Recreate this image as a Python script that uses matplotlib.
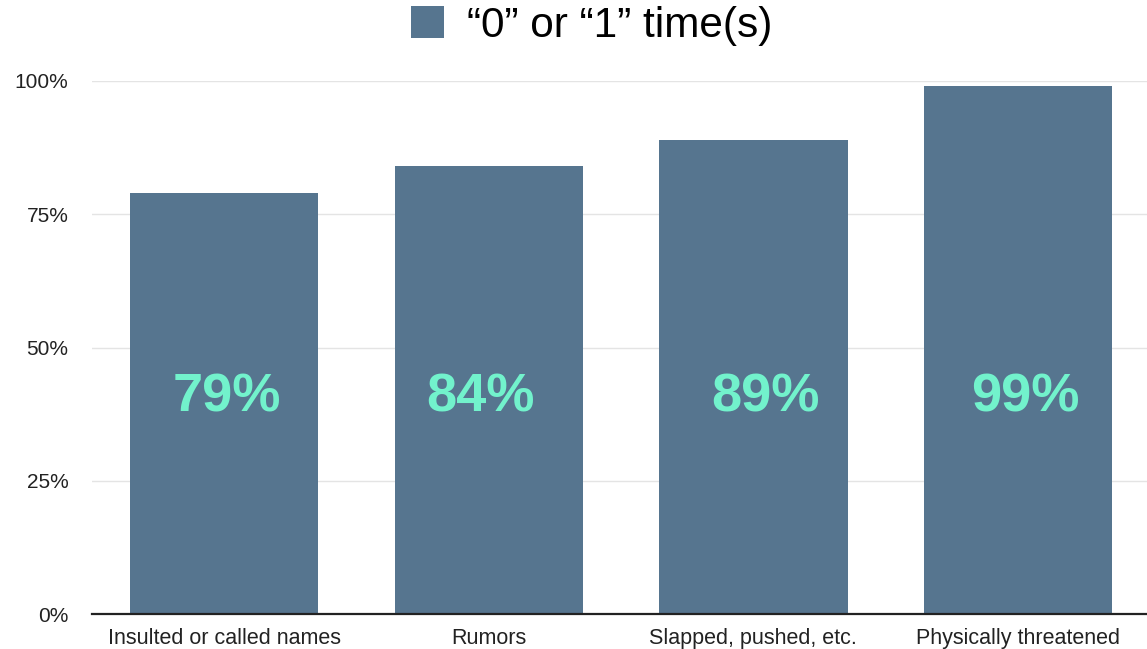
import matplotlib.pyplot as plt

categories = ['Insulted or called names', 'Rumors', 'Slapped, pushed, etc.', 'Physically threatened']
values = [79, 84, 89, 99]
series_name = '\u201c0\u201d or \u201c1\u201d time(s)'
yticks = [0, 25, 50, 75, 100]

bar_color = '#56758f'
label_color = '#72f2cc'
# small horizontal nudges (in points) for the in-bar labels
label_nudge = [2, -6, 9, 5]

plt.rcParams['font.family'] = ['Liberation Sans', 'DejaVu Sans']

fig = plt.figure(figsize=(11.47, 6.49), dpi=100)
ax = fig.add_axes([0.0802, 0.0539, 0.9226, 0.8213])

x = range(len(categories))
bars = ax.bar(x, values, width=0.712, color=bar_color, label=series_name, zorder=2)

# big value labels inside each bar
for xi, v, dx in zip(x, values, label_nudge):
    ax.annotate(f'{v}%', (xi, 40.6), xytext=(dx, 0), textcoords='offset points',
                ha='center', va='center', fontsize=39, fontweight='bold',
                color=label_color, zorder=3)

ax.set_xlim(-0.5, 3.5)
ax.set_ylim(0, 100)
ax.set_yticks(yticks)
ax.set_yticklabels([f'{t}%' for t in yticks])
ax.set_xticks(list(x))
ax.set_xticklabels(categories)
ax.tick_params(axis='y', length=0, pad=17, labelsize=15, labelcolor='#222222')
ax.tick_params(axis='x', length=0, pad=10, labelsize=15.5, labelcolor='#222222')

ax.grid(axis='y', color='#e4e4e4', linewidth=1, zorder=0)
for s in ['top', 'right', 'left']:
    ax.spines[s].set_visible(False)
ax.spines['bottom'].set_color('#222222')
ax.spines['bottom'].set_linewidth(1.6)

fig.legend(handles=[bars], labels=[series_name], loc='center',
           bbox_to_anchor=(0.516, 0.96), frameon=False, fontsize=30.5,
           handlelength=0.78, handleheight=0.78, handletextpad=0.55)

plt.savefig('out.png', dpi=100)
